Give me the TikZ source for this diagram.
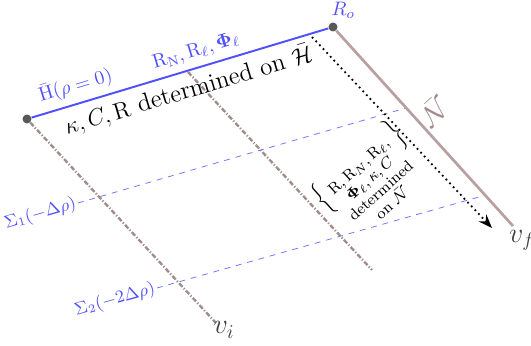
\documentclass[tikz,border=0pt]{standalone}
\usepackage{amsmath,amssymb,bm}
\usepackage{tikz}
\usetikzlibrary{positioning, arrows.meta}

\definecolor{rosy}{RGB}{185,160,160}
\definecolor{wood}{RGB}{160,140,140}
\definecolor{hblue}{RGB}{80,80,255}

\newcommand{\bracestrut}{\rule[-7pt]{0pt}{17pt}}

\begin{document}
\begin{tikzpicture}[
    x=0.018cm, y=-0.018cm,
    >=Stealth,
    dot/.style={circle, fill=black!65, inner sep=0pt, minimum size=4.6pt},
    horizon/.style={draw=hblue, line width=1pt},
    nullline/.style={draw=rosy, line width=1.4pt},
    generator/.style={draw=wood, line width=1.2pt, dash pattern=on 2.5pt off 1pt on 0.6pt off 1pt},
    slice/.style={draw=hblue!80, dashed, thin},
    flow/.style={->, black, line width=0.9pt, dash pattern=on 0.9pt off 1.8pt},
    bluelbl/.style={text=hblue},
    endlbl/.style={text=black!75, font=\Large},
]
\useasboundingbox (0,0) rectangle (531,346);

% === Corners of the horizon ===
\node[dot] (H) at (27,119) {};
\node[dot] (Ro) at (333,27) {};
\coordinate (vf) at (513,226);

% === Generators on the horizon ===
\coordinate (gA) at (188,72);
\coordinate (vi) at (216,323);
\coordinate (gB) at (372,270);

% === Slices ===
\coordinate (s1a) at (78,203);
\coordinate (s1b) at (406,108);
\coordinate (s2a) at (157,288);
\coordinate (s2b) at (486,195);

\draw[generator] (H) -- (vi);
\draw[generator] (gA) -- (gB);

\draw[slice] (s1a) -- node[pos=0, sloped, anchor=east, bluelbl, font=\small, inner sep=1pt] {$\Sigma_1(-\Delta\rho)$} (s1b);
\draw[slice] (s2a) -- node[pos=0, sloped, anchor=east, bluelbl, font=\small, inner sep=1pt] {$\Sigma_2(-2\Delta\rho)$} (s2b);

% null hypersurface N
\draw[nullline] (Ro) -- (vf);

% horizon H with its labels
\draw[horizon] (H) -- node[pos=0.165, sloped, above, bluelbl] {$\bar{\mathrm{H}}(\rho=0)$}
    node[pos=0.57, sloped, above, bluelbl] {$\mathrm{R}_{\mathrm{N}},\mathrm{R}_\ell,\bm{\Phi}_\ell$}
    node[pos=0.51, sloped, below, font=\fontsize{12.8}{15}\selectfont] {$\kappa, C, \mathrm{R}$ determined on $\bar{\mathcal{H}}$} (Ro);

% integration along N
\coordinate (fa) at (312,37);
\coordinate (fb) at (492,228);
\draw[flow] (fa) -- (fb);

% === Labels ===
\node[bluelbl, above right=-1pt and -6pt of Ro] (Rolbl) {$R_o$};
\node[endlbl] (vflbl) at (522,240) {$v_f$};
\node[endlbl] (vilbl) at (224,330) {$v_i$};
\node[text=wood, font=\Large, rotate=42] (Nlbl) at (434,111) {$\bar{\mathcal{N}}$};

\node[font=\footnotesize, rotate=42, anchor=base, inner sep=0pt] (onN) at (362,170)
    {$\left\{\bracestrut\right.$\begin{tabular}[t]{@{}c@{}}$\mathrm{R},\mathrm{R}_{N},\mathrm{R}_\ell,$\\[-1pt]
     $\bm{\Phi}_\ell,\kappa,C$\\[-1pt] determined\\[-1pt] on $\bar{\mathcal{N}}$\end{tabular}$\left.\bracestrut\right\}$};

\end{tikzpicture}
\end{document}
